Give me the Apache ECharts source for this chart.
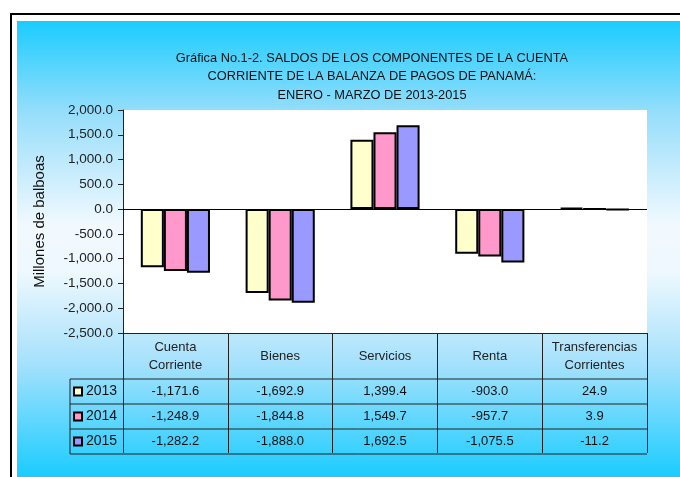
<!DOCTYPE html>
<html>
<head>
<meta charset="utf-8">
<script src="https://cdn.jsdelivr.net/npm/echarts@6/dist/echarts.min.js"></script>
<style>
    html, body { margin: 0; padding: 0; background: #fff; }
    #chart { width: 680px; height: 477px; }
</style>
</head>
<body>
<div id="chart"></div>
<script>
var titleText = 'Gráfica No.1-2. SALDOS DE LOS COMPONENTES DE LA CUENTA\nCORRIENTE DE LA BALANZA DE PAGOS DE PANAMÁ:\nENERO - MARZO DE 2013-2015';
var categories = ['Cuenta\nCorriente', 'Bienes', 'Servicios', 'Renta', 'Transferencias\nCorrientes'];
var years = ['2013', '2014', '2015'];
var values2013 = [-1171.6, -1692.9, 1399.4, -903.0, 24.9];
var values2014 = [-1248.9, -1844.8, 1549.7, -957.7, 3.9];
var values2015 = [-1282.2, -1888.0, 1692.5, -1075.5, -11.2];
var yearColors = ['#FFFFCC', '#FF99CC', '#9999FF'];

(function () {
    var rows = [values2013, values2014, values2015];
    var font = 'Arial, "Liberation Sans", sans-serif';

    // plot box
    var gLeft = 123, gRight = 647, gTop = 110, gBottom = 333;
    var rowH = 25, headH = 46, tableLeft = 70;

    function fmt(v) {
        return v.toLocaleString('en-US', {minimumFractionDigits: 1, maximumFractionDigits: 1});
    }

    var xAxes = [{
        type: 'category',
        data: categories,
        position: 'bottom',
        axisLine: {onZero: false, lineStyle: {color: '#222', width: 1}},
        axisTick: {show: true, length: headH + rowH * 3 - 1, lineStyle: {color: '#222'}},
        axisLabel: {
            color: '#222', fontSize: 13, fontFamily: font,
            margin: headH / 2, verticalAlign: 'middle', lineHeight: 18, interval: 0
        }
    }];
    for (var r = 0; r < rows.length; r++) {
        (function (row, r) {
            xAxes.push({
                type: 'category',
                data: categories,
                position: 'bottom',
                offset: headH + rowH * r + rowH / 2,
                axisLine: {show: false, onZero: false},
                axisTick: {show: false},
                axisLabel: {
                    color: '#111', fontSize: 13, fontFamily: font, margin: 0,
                    verticalAlign: 'middle', interval: 0,
                    formatter: function (v, i) { return fmt(row[i]); }
                }
            });
        })(rows[r], r);
    }

    var series = [];
    for (var s = 0; s < years.length; s++) {
        var item = {
            name: years[s],
            type: 'bar',
            data: rows[s],
            barGap: '0%',
            barCategoryGap: '34%',
            itemStyle: {color: yearColors[s], borderColor: '#000', borderWidth: 2},
            emphasis: {disabled: true}
        };
        if (s === 0) {
            item.markLine = {
                silent: true, symbol: 'none', animation: false,
                label: {show: false},
                lineStyle: {color: '#000', width: 1, type: 'solid'},
                data: [{yAxis: 0}]
            };
        }
        series.push(item);
    }

    // table lines under the plot
    var tableEls = [];
    var yTable = gBottom + headH;
    for (var k = 0; k <= rows.length; k++) {
        tableEls.push({
            type: 'line', z: 10,
            shape: {x1: tableLeft, y1: yTable + rowH * k, x2: gRight, y2: yTable + rowH * k},
            style: {stroke: '#222', lineWidth: 1}
        });
    }
    tableEls.push({
        type: 'line', z: 10,
        shape: {x1: tableLeft, y1: yTable, x2: tableLeft, y2: yTable + rowH * rows.length},
        style: {stroke: '#222', lineWidth: 1}
    });

    var chart = echarts.init(document.getElementById('chart'), null, {renderer: 'canvas'});
    chart.setOption({
        animation: false,
        backgroundColor: '#fff',
        title: {
            text: titleText,
            left: 367, top: 44, textAlign: 'center',
            textStyle: {fontSize: 12.8, fontWeight: 'normal', color: '#111', fontFamily: font, lineHeight: 18.5}
        },
        legend: {
            data: years,
            orient: 'vertical',
            left: tableLeft + 3, top: yTable,
            padding: 0, itemGap: 0,
            itemWidth: 8, itemHeight: 8,
            icon: 'rect',
            selectedMode: false,
            textStyle: {fontSize: 14, color: '#111', fontFamily: font, lineHeight: rowH, padding: [0, 0, 0, -1]}
        },
        grid: {
            left: gLeft, right: 680 - gRight, top: gTop, bottom: 477 - gBottom,
            show: true, backgroundColor: '#fff', borderWidth: 0
        },
        xAxis: xAxes,
        yAxis: {
            type: 'value',
            min: -2500, max: 2000, interval: 500,
            name: 'Millones de balboas',
            nameLocation: 'middle', nameRotate: 90, nameGap: 76,
            nameTextStyle: {fontSize: 15, color: '#111', fontFamily: font},
            axisLine: {show: true, lineStyle: {color: '#222'}},
            axisTick: {show: true, length: 5, lineStyle: {color: '#222'}},
            splitLine: {show: false},
            axisLabel: {color: '#222', fontSize: 13.5, fontFamily: font, margin: 10, formatter: fmt}
        },
        graphic: [{
            type: 'rect', z: -100, silent: true,
            shape: {x: 17, y: 21, width: 663, height: 456},
            style: {
                fill: new echarts.graphic.LinearGradient(0, 0, 0, 1, [
                    {offset: 0, color: '#1ACCFF'},
                    {offset: 0.2, color: '#96DEFB'},
                    {offset: 0.45, color: '#F2F9FE'},
                    {offset: 0.55, color: '#EEF8FE'},
                    {offset: 0.75, color: '#A6E1FC'},
                    {offset: 1, color: '#1ACCFF'}
                ])
            }
        }, {
            type: 'rect', z: -100, silent: true,
            shape: {x: 10, y: 13, width: 670, height: 2},
            style: {fill: '#000'}
        }, {
            type: 'rect', z: -100, silent: true,
            shape: {x: 10, y: 13, width: 2, height: 464},
            style: {fill: '#000'}
        }].concat(tableEls),
        series: series
    });
})();
</script>
</body>
</html>
